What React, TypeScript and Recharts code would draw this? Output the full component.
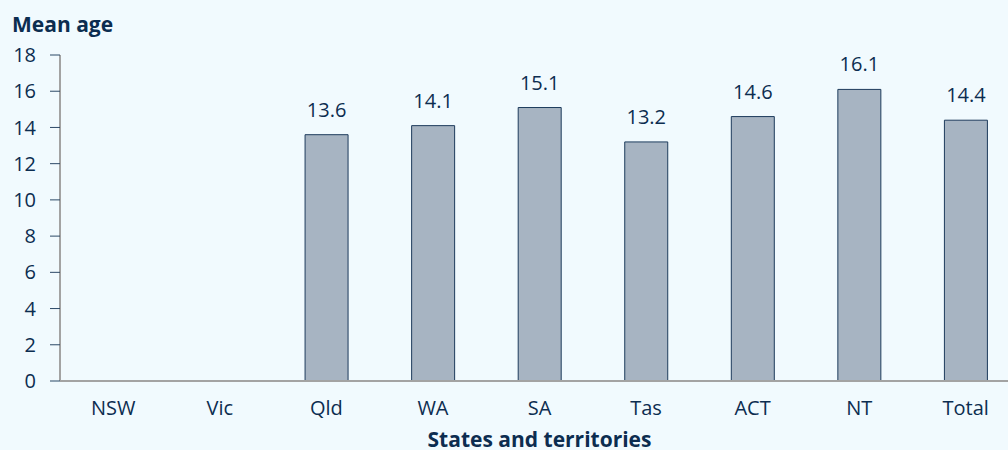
import React from "react";
import { BarChart, Bar, XAxis, YAxis, LabelList, Label } from "recharts";

const categories = ["NSW", "Vic", "Qld", "WA", "SA", "Tas", "ACT", "NT", "Total"];
const meanAge: (number | null)[] = [null, null, 13.6, 14.1, 15.1, 13.2, 14.6, 16.1, 14.4];
const yTicks = [0, 2, 4, 6, 8, 10, 12, 14, 16, 18];

const data = categories.map((c, i) => ({ state: c, value: meanAge[i] }));

const FONT = "'Open Sans', 'Noto Sans', sans-serif";
const TEXT = "#0c2d50";

export default function App() {
  return (
    <div
      style={{
        position: "absolute",
        left: 0,
        top: 0,
        width: 1008,
        height: 450,
        overflow: "hidden",
        background: "#f1fafe",
        fontFamily: FONT,
      }}
    >
      <div
        style={{
          position: "absolute",
          left: 12,
          top: 14,
          fontSize: 21,
          lineHeight: 1,
          fontWeight: 700,
          color: TEXT,
        }}
      >
        Mean age
      </div>
      <BarChart
        width={1030}
        height={450}
        data={data}
        margin={{ top: 55, right: 11, bottom: 0, left: 0 }}
        barCategoryGap="30%"
      >
        <XAxis
          dataKey="state"
          height={69}
          axisLine={{ stroke: "#a3a3a3", strokeWidth: 2 }}
          tickLine={false}
          tickSize={0}
          tickMargin={20}
          tick={{ fill: TEXT, fontSize: 20, fontFamily: FONT }}
        >
          <Label
            value="States and territories"
            position="insideBottom"
            offset={3}
            style={{ fill: TEXT, fontSize: 21, fontWeight: 700, fontFamily: FONT }}
          />
        </XAxis>
        <YAxis
          width={60}
          domain={[0, 18]}
          ticks={yTicks}
          interval={0}
          axisLine={{ stroke: "#a3a3a3", strokeWidth: 2 }}
          tickLine={{ stroke: "#2b4866" }}
          tickSize={10}
          tickMargin={14}
          tick={{ fill: TEXT, fontSize: 20, fontFamily: FONT }}
        />
        <Bar
          dataKey="value"
          fill="#a7b4c2"
          stroke="#1d3b5c"
          strokeWidth={1}
          isAnimationActive={false}
        >
          <LabelList
            dataKey="value"
            position="top"
            offset={18}
            style={{ fill: TEXT, fontSize: 20, fontFamily: FONT }}
          />
        </Bar>
      </BarChart>
    </div>
  );
}
